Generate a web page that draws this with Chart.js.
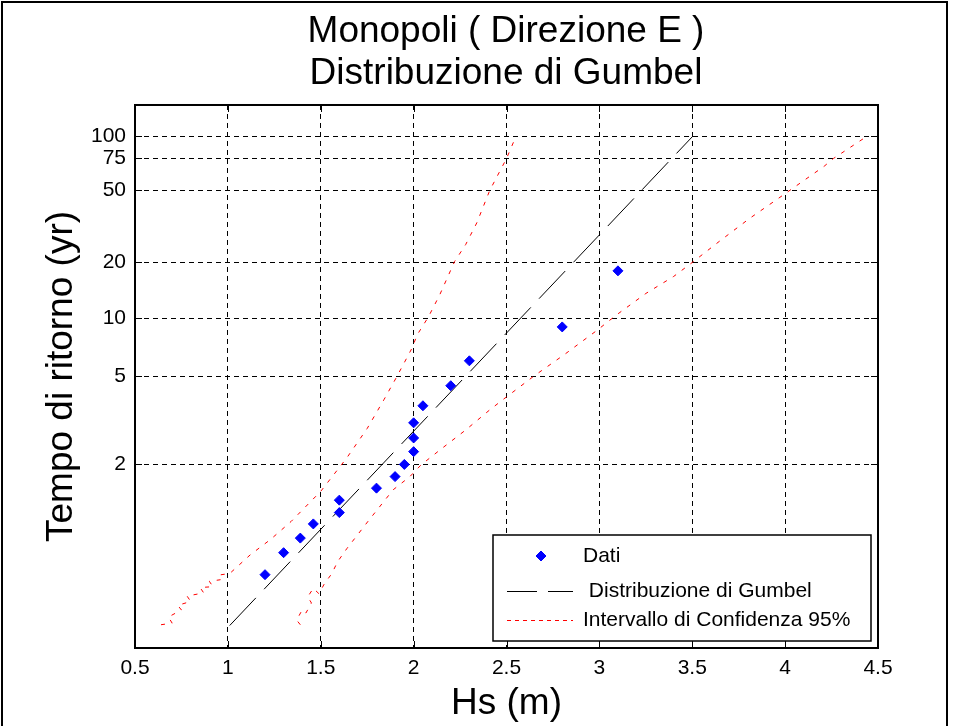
<!DOCTYPE html>
<html>
<head>
<meta charset="utf-8">
<script src="https://cdn.jsdelivr.net/npm/chart.js@4.4.0/dist/chart.umd.min.js"></script>
<style>
  html, body { margin: 0; padding: 0; background: #fff; }
  #wrap { width: 956px; height: 726px; }
</style>
</head>
<body>
<div id="wrap"><canvas id="chart" width="956" height="726"></canvas></div>
<script>
const FONT = '"Liberation Sans", Arial, Helvetica, sans-serif';

// asse x: Hs (m)
const xTicks = [0.5, 1, 1.5, 2, 2.5, 3, 3.5, 4, 4.5];
// asse y: tempi di ritorno (anni) della griglia
const yTickT = [2, 5, 10, 20, 50, 75, 100];
const yTickLabels = ['2', '5', '10', '20', '50', '75', '100'];

// dati osservati: Hs e tempo di ritorno
const hsDati = [1.2, 1.3, 1.39, 1.46, 1.6, 1.6, 1.8, 1.9, 1.95, 2.0, 2.0, 2.0, 2.05, 2.2, 2.3, 2.8, 3.1];
const tDati = [1.06, 1.13, 1.2, 1.29, 1.38, 1.5, 1.64, 1.8, 2, 2.25, 2.57, 3, 3.6, 4.5, 6, 9, 18];

// retta di Gumbel (in variabile ridotta)
const hsGumbel = [1.01, 3.5];
const yGumbel = [-1.71, 4.59];

// intervallo di confidenza 95% (in variabile ridotta)
const hsConfSup = [0.64, 0.70, 0.68, 0.75, 0.73, 0.80, 0.78, 0.87, 0.85, 0.92, 0.90, 0.96, 0.95, 1.01, 1.12, 1.23, 1.34, 1.50, 1.64, 1.75, 1.84, 1.91, 1.99, 2.02, 2.08, 2.14, 2.22, 2.28, 2.34, 2.41, 2.50, 2.55];
const yConfSup = [-1.70, -1.68, -1.60, -1.51, -1.45, -1.40, -1.33, -1.29, -1.22, -1.21, -1.14, -1.12, -1.06, -1.04, -0.80, -0.60, -0.37, 0.02, 0.45, 0.83, 1.20, 1.50, 1.86, 2.04, 2.27, 2.55, 2.98, 3.20, 3.48, 3.90, 4.31, 4.59];
const hsConfInf = [1.39, 1.37, 1.40, 1.42, 1.45, 1.43, 1.46, 1.49, 1.52, 1.56, 1.59, 1.64, 1.76, 1.89, 1.98, 2.04, 2.14, 2.28, 2.41, 2.48, 2.65, 2.81, 2.99, 3.09, 3.25, 3.40, 3.50, 3.65, 3.81, 3.99, 4.21, 4.26, 4.43];
const yConfInf = [-1.70, -1.64, -1.51, -1.55, -1.42, -1.34, -1.23, -1.30, -1.17, -1.04, -0.89, -0.72, -0.35, 0.04, 0.21, 0.36, 0.55, 0.81, 1.07, 1.20, 1.51, 1.78, 2.10, 2.29, 2.57, 2.79, 2.97, 3.25, 3.54, 3.84, 4.21, 4.31, 4.58];

// variabile ridotta di Gumbel per un tempo di ritorno T
const ridotta = (T) => -Math.log(-Math.log(1 - 1 / T));
const pts = (xs, ys) => xs.map((x, i) => ({ x: x, y: ys[i] }));

// cornice della figura, box degli assi con tacche interne e legenda
const cornice = {
  id: 'cornice',
  beforeDraw(chart) {
    const ctx = chart.ctx;
    ctx.save();
    ctx.fillStyle = '#fff';
    ctx.fillRect(0, 0, chart.width, chart.height);
    ctx.strokeStyle = '#000';
    ctx.lineWidth = 2;
    ctx.strokeRect(2, 2, 945, 780);
    ctx.restore();
  },
  afterDatasetsDraw(chart) {
    const ctx = chart.ctx;
    const a = chart.chartArea;
    const sx = chart.scales.x, sy = chart.scales.y;
    ctx.save();
    ctx.strokeStyle = '#000';
    ctx.setLineDash([]);
    ctx.lineWidth = 1;
    ctx.beginPath();
    sx.ticks.forEach(t => {
      const px = Math.round(sx.getPixelForValue(t.value)) + 0.5;
      ctx.moveTo(px, a.bottom); ctx.lineTo(px, a.bottom - 7);
      ctx.moveTo(px, a.top); ctx.lineTo(px, a.top + 7);
    });
    sy.ticks.forEach(t => {
      const py = Math.round(sy.getPixelForValue(t.value)) + 0.5;
      ctx.moveTo(a.left, py); ctx.lineTo(a.left + 7, py);
      ctx.moveTo(a.right, py); ctx.lineTo(a.right - 7, py);
    });
    ctx.stroke();
    ctx.lineWidth = 2;
    ctx.strokeRect(a.left, a.top, a.right - a.left, a.bottom - a.top);

    // legenda
    const lw = 378, lh = 106;
    const lx = a.right - 7 - lw, ly = a.bottom - 7 - lh;
    ctx.fillStyle = '#fff';
    ctx.fillRect(lx, ly, lw, lh);
    ctx.lineWidth = 1.5;
    ctx.strokeRect(lx, ly, lw, lh);
    const ds = chart.data.datasets;
    const rows = [21, 56, 85];
    ctx.font = '21px ' + FONT;
    ctx.textBaseline = 'middle';
    // Dati
    ctx.lineWidth = 1;
    ctx.fillStyle = ds[0].backgroundColor;
    ctx.strokeStyle = ds[0].borderColor;
    ctx.beginPath();
    ctx.moveTo(lx + 48, ly + rows[0] - 5); ctx.lineTo(lx + 53, ly + rows[0]);
    ctx.lineTo(lx + 48, ly + rows[0] + 5); ctx.lineTo(lx + 43, ly + rows[0]);
    ctx.closePath(); ctx.fill(); ctx.stroke();
    ctx.fillStyle = '#000';
    ctx.fillText(ds[0].label, lx + 90, ly + rows[0]);
    // Gumbel
    ctx.strokeStyle = ds[1].borderColor;
    ctx.setLineDash([30, 11]);
    ctx.beginPath();
    ctx.moveTo(lx + 14, ly + rows[1] + 0.5); ctx.lineTo(lx + 80, ly + rows[1] + 0.5);
    ctx.stroke();
    ctx.fillText(ds[1].label, lx + 90, ly + rows[1]);
    // Intervallo
    ctx.strokeStyle = ds[2].borderColor;
    ctx.setLineDash([4, 4]);
    ctx.beginPath();
    ctx.moveTo(lx + 14, ly + rows[2] + 0.5); ctx.lineTo(lx + 80, ly + rows[2] + 0.5);
    ctx.stroke();
    ctx.fillText(ds[2].label, lx + 90, ly + rows[2]);
    ctx.restore();
  }
};

new Chart(document.getElementById('chart'), {
  type: 'scatter',
  data: {
    datasets: [
      { label: 'Dati', data: pts(hsDati, tDati.map(ridotta)), pointStyle: 'rectRot', pointRadius: 5, pointHoverRadius: 5, backgroundColor: '#0000ff', borderColor: '#0000ff', borderWidth: 1 },
      { label: ' Distribuzione di Gumbel', data: pts(hsGumbel, yGumbel), showLine: true, borderColor: '#000', borderWidth: 1, borderDash: [38, 12], pointRadius: 0 },
      { label: 'Intervallo di Confidenza 95%', data: pts(hsConfSup, yConfSup), showLine: true, borderColor: '#ff0000', borderWidth: 1, borderDash: [4, 7], pointRadius: 0 },
      { label: 'Intervallo di Confidenza 95%', data: pts(hsConfInf, yConfInf), showLine: true, borderColor: '#ff0000', borderWidth: 1, borderDash: [4, 7], pointRadius: 0 }
    ]
  },
  options: {
    responsive: false,
    devicePixelRatio: 1,
    animation: false,
    // padding sinistro per centrare il titolo sull'area del grafico
    layout: { padding: { left: 56, right: 0, top: 0, bottom: 0 } },
    plugins: {
      legend: { display: false },
      tooltip: { enabled: false },
      title: {
        display: true,
        text: ['Monopoli ( Direzione E )', 'Distribuzione di Gumbel'],
        color: '#000',
        font: { family: FONT, size: 37, weight: 'normal', lineHeight: 1.135 },
        padding: { top: 11, bottom: 10 }
      }
    },
    scales: {
      x: {
        type: 'linear', min: 0.5, max: 4.5,
        afterBuildTicks: s => { s.ticks = xTicks.map(v => ({ value: v })); },
        afterFit: s => { s.height = 78; },
        ticks: { color: '#000', font: { family: FONT, size: 21 }, padding: 8, autoSkip: false, maxRotation: 0, callback: v => String(v) },
        grid: { color: '#000', lineWidth: 1, drawTicks: false },
        border: { display: false, dash: [5, 4] },
        title: { display: true, text: 'Hs (m)', color: '#000', font: { family: FONT, size: 37 }, padding: { top: 0, bottom: 0 } }
      },
      y: {
        type: 'linear', min: -2, max: 5,
        afterBuildTicks: s => { s.ticks = yTickT.map(t => ({ value: ridotta(t) })); },
        afterFit: s => { s.width = 79; },
        ticks: { color: '#000', font: { family: FONT, size: 21 }, padding: 9, autoSkip: false, callback: (v, i) => yTickLabels[i] },
        grid: { color: '#000', lineWidth: 1, drawTicks: false },
        border: { display: false, dash: [5, 4] },
        title: { display: true, text: 'Tempo di ritorno (yr)', color: '#000', font: { family: FONT, size: 37 }, padding: { top: -16, bottom: 0 } }
      },
      // asse destro vuoto: solo spazio a destra dell'area del grafico
      y2: {
        type: 'linear', position: 'right', min: -2, max: 5,
        afterFit: s => { s.width = 78; },
        ticks: { display: false },
        grid: { display: false },
        border: { display: false }
      }
    }
  },
  plugins: [cornice]
});
</script>
</body>
</html>
